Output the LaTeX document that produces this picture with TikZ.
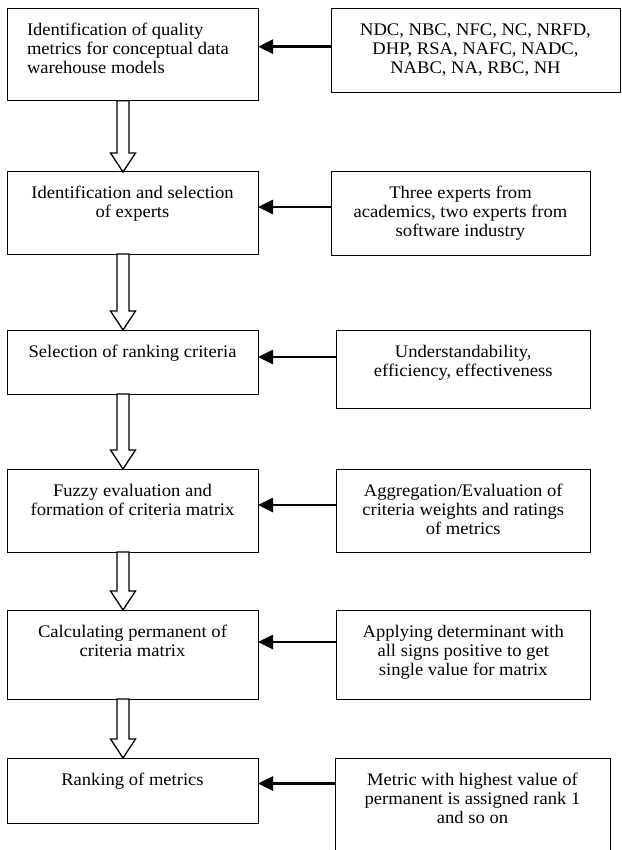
\documentclass[tikz,border=0pt]{standalone}
\usepackage{fontspec}
\setmainfont{Liberation Serif}[FakeStretch=1.05]
\usetikzlibrary{arrows.meta,calc}
\newcommand{\bxtext}[3]{\parbox[t][#2][t]{#1}{\fontsize{17.7}{19}\selectfont\vspace*{13.7pt}\centering\strut #3\par}}
\newcommand{\bxtextl}[3]{\parbox[t][#2][t]{#1}{\fontsize{17.7}{19}\selectfont\vspace*{13.7pt}\raggedright\leftskip=20pt\strut #3\par}}
\tikzset{
  boxnode/.style={draw, line width=1pt, inner sep=0pt, outer sep=0pt, anchor=north west},
  feed/.style={line width=2.6pt, -{Triangle[length=15pt,width=14pt]}},
  hollow/.style={draw, line width=1.3pt, fill=white, line join=miter},
}
\begin{document}
\begin{tikzpicture}[x=1pt,y=-1pt]
\useasboundingbox (0,0) rectangle (621,850);
\clip (0,0) rectangle (621,850);
% left column
\node[boxnode] (b1) at (7,8.3)  {\bxtextl{251pt}{92.4pt}{Identification of quality\\ metrics for conceptual data\\ warehouse models}};
\node[boxnode] (b2) at (7,172)  {\bxtext{251pt}{82pt}{Identification and selection\\ of experts}};
\node[boxnode] (b3) at (7,330)  {\bxtext{251pt}{64pt}{Selection of ranking criteria}};
\node[boxnode] (b4) at (7,469)  {\bxtext{251pt}{83pt}{Fuzzy evaluation and\\ formation of criteria matrix}};
\node[boxnode] (b5) at (7,610)  {\bxtext{251pt}{89pt}{Calculating permanent of\\ criteria matrix}};
\node[boxnode] (b6) at (7,758)  {\bxtext{251pt}{65pt}{Ranking of metrics}};
% right column
\node[boxnode] (r1) at (331,8.3) {\bxtext{289pt}{84.2pt}{NDC, NBC, NFC, NC, NRFD,\\ DHP, RSA, NAFC, NADC,\\ NABC, NA, RBC, NH}};
\node[boxnode] (r2) at (331,172) {\bxtext{259pt}{83pt}{Three experts from\\ academics, two experts from\\ software industry}};
\node[boxnode] (r3) at (336.5,330) {\bxtext{253.5pt}{78pt}{Understandability,\\ efficiency, effectiveness}};
\node[boxnode] (r4) at (336.5,469) {\bxtext{253.5pt}{83pt}{Aggregation/Evaluation of\\ criteria weights and ratings\\ of metrics}};
\node[boxnode] (r5) at (336.5,610) {\bxtext{253.5pt}{89pt}{Applying determinant with\\ all signs positive to get\\ single value for matrix}};
\node[boxnode] (r6) at (335,758) {\bxtext{275pt}{97pt}{Metric with highest value of\\ permanent is assigned rank 1\\ and so on}};
% feeding arrows
\coordinate (y1) at (0,46.7);
\coordinate (y2) at (0,207);
\coordinate (y3) at (0,357);
\coordinate (y4) at (0,505);
\coordinate (y5) at (0,642);
\coordinate (y6) at (0,783.5);
\foreach \i in {1,...,6}{
  \draw[feed] (r\i.west |- y\i) -- (b\i.east |- y\i);
}
% hollow block arrows
\coordinate (ax) at (123,0);
\foreach \a/\b in {b1/b2,b2/b3,b3/b4,b4/b5,b5/b6}{
  \draw[hollow] let \p1=(\a.south -| ax), \p2=(\b.north -| ax) in
    (\x1-6pt,\y1) -- (\x1-6pt,\y2+19pt) -- (\x1-12.5pt,\y2+19pt) -- (\x2,\y2)
    -- (\x1+12.5pt,\y2+19pt) -- (\x1+6pt,\y2+19pt) -- (\x1+6pt,\y1) -- cycle;
}
\end{tikzpicture}
\end{document}
